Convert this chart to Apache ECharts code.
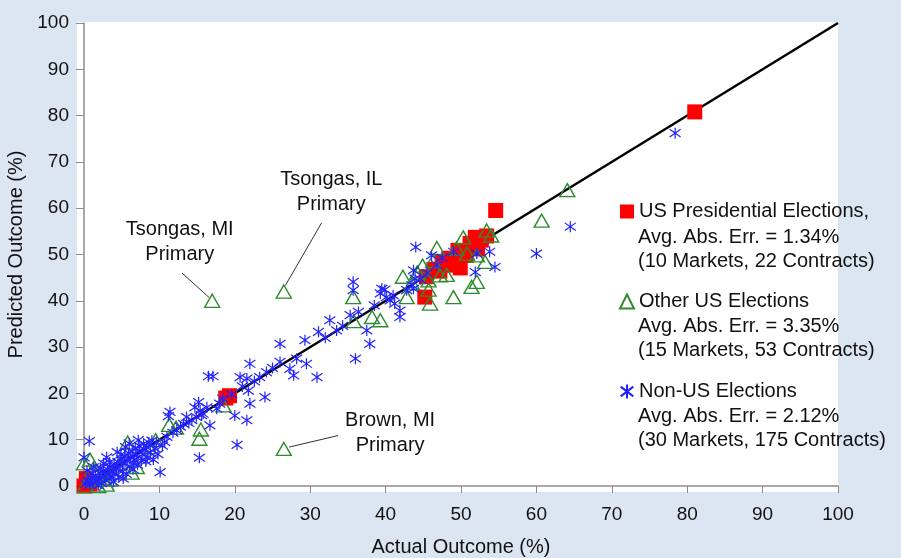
<!DOCTYPE html>
<html>
<head>
<meta charset="utf-8">
<script src="https://cdn.jsdelivr.net/npm/echarts@6/dist/echarts.min.js"></script>
<style>
  html, body { margin: 0; padding: 0; background: #dce6f2; }
  #chart { width: 901px; height: 558px; }
</style>
</head>
<body>
<div id="chart"></div>
<script>
// US presidential election contracts (actual %, predicted %)
const presData = [
  [0, 0], [0.3, 1.6], [0.8, 0.4],
  [18.8, 19], [19.3, 19.5],
  [45.2, 40.8], [45.4, 45.2], [46.4, 46.8], [47.5, 48.3], [48.4, 49.2],
  [48.9, 47.7], [49.6, 50.9], [49.9, 47.1], [50.7, 49.8], [51.2, 52.4],
  [51.9, 53.7], [52.7, 53.1], [53.4, 54], [52.2, 51.2], [47.2, 46.4],
  [54.6, 59.5], [81, 80.8]
];

// other US elections
const otherUsData = [
  [0, 4.9], [0.8, 5.7], [0.1, 0], [1.1, 1.2], [1.9, 0], [3, 0.3], [3.4, 1.4],
  [1.6, 2.6], [4.8, 4.9], [5.8, 9.4], [7, 4.1], [6.3, 2.9], [2.6, 1.8],
  [11.3, 13.2], [15.3, 10.2], [15.5, 12.2], [18.5, 17.4],
  [17, 40], [26.5, 42], [26.5, 8],
  [35.7, 40.8], [35.8, 35.6], [38.2, 36.5], [39.3, 35.8],
  [42.3, 45.2], [42.8, 40.8], [44.9, 47.6], [45.7, 44.4], [45.7, 42.4],
  [45.9, 39.4], [46.8, 51.4], [47.2, 45.5], [48.1, 45.6], [49, 40.8],
  [49.4, 51.3], [50.3, 53.7], [51.4, 43], [52.1, 44.1], [52.1, 49.8],
  [53.2, 48.4], [53.4, 55.2], [54, 54.1], [60.7, 57.3], [64.1, 63.9],
  [44.2, 46.1], [46.3, 48.6], [50.8, 50.2], [43.5, 43.8], [8.6, 8.4],
  [3.8, 2.9], [9.5, 9.9], [12.2, 12.6], [1.2, 3.6]
];

// non-US elections
const nonUsData = [
  [0.2, 0.5], [0.5, 1.2], [0.8, 0.3], [1, 1.8], [1.2, 0.8], [1.5, 2.2], [1.7, 1.3],
  [2, 2.8], [2.1, 1.5], [2.3, 0.6], [2.5, 3.2], [2.7, 2.1], [2.9, 1.2], [3.1, 3.6],
  [3.3, 2.5], [3.5, 4.2], [3.6, 1.8], [3.8, 3.1], [4, 4.8], [4.1, 2.6], [4.3, 3.7],
  [4.5, 5.2], [4.6, 1.9], [4.8, 4.3], [5, 5.8], [5.1, 3.2], [5.3, 4.9], [5.4, 6.5],
  [5.6, 2.6], [5.8, 5.4], [5.9, 7.1], [6.1, 4.2], [6.2, 6.2], [6.4, 7.5], [6.5, 3.6],
  [6.7, 5.7], [6.8, 8.2], [7, 6.6], [7.1, 4.6], [7.3, 7.6], [7.4, 8.6], [7.6, 5.5],
  [7.8, 6.9], [7.9, 9.1], [8.1, 7.8], [8.3, 8.4], [8.4, 6.1], [8.6, 9.4], [8.8, 7.2],
  [9, 9.8], [9.2, 5.7], [9.4, 8.1], [9.6, 9.3], [9.8, 6.9], [10.1, 3], [10.4, 8.7],
  [0, 6.2], [0.7, 9.7], [0.4, 3.3], [1.3, 4.1], [1.9, 0.2], [2.6, 4.9], [3.9, 0.9],
  [3, 6.2], [4.4, 7.3], [5.5, 8.4], [6, 9.2], [7.2, 9.9], [8.2, 5.3], [1.1, 2.7],
  [2.2, 3.9], [3.4, 5.1], [4.9, 6.8], [6.6, 4.9], [5.2, 1.6], [0.6, 0.9],
  [10.7, 9.5], [11, 10.6], [11.4, 16], [11.2, 15.1], [11.8, 11.5], [12.3, 12],
  [12.8, 12.8], [13.2, 13.4], [13.6, 14.9], [13.9, 13.6], [14.3, 14.2], [14.7, 17],
  [14.9, 14.9], [15.2, 18.1], [15.4, 16.3], [15.3, 6.1], [15.6, 15.3], [15.8, 15.6],
  [16.3, 17], [16.7, 13.1], [16.5, 23.7], [17.1, 23.7], [17.6, 16.7], [18, 17.8],
  [18.4, 18.9], [19.6, 19.8], [20, 15.2], [20.3, 8.9], [20.7, 23.5], [21, 21.5],
  [21.6, 23.2], [21.6, 14.2], [21.8, 20.6], [22, 17.8], [22, 26.4], [22.6, 22.6],
  [23.3, 23.5], [24, 19.2], [24.2, 24.6], [25, 25.5], [26, 30.7], [26, 26.8],
  [27.3, 25.3], [27.8, 23.9], [28.2, 27.5], [29.3, 31.5], [29.5, 26.4], [30.9, 23.5],
  [31.1, 33.3], [32, 32], [32.6, 35.8], [33.5, 33.6], [34.3, 34.6], [35.3, 36.9],
  [35.7, 44.1], [35.7, 42.3], [36, 27.5], [36.4, 37.6], [37.5, 33.6], [37.9, 30.7],
  [38.5, 39], [39.3, 41.6], [39.5, 42.6], [39.9, 42.4], [40.1, 40.8], [40.6, 40.1],
  [41, 41.2], [41.2, 39.4], [41.9, 37.9], [41.9, 36.5], [42.8, 42.3], [43.5, 43.4],
  [43.7, 46.6], [43.7, 42.6], [43.9, 44.8], [44, 51.6], [44.6, 44.7], [45.5, 46],
  [46.1, 49.8], [46.8, 47.7], [47.5, 49.3], [49, 50.6], [51.9, 46.2], [52.1, 50.2],
  [53.8, 50.6], [54.5, 47.3], [60, 50.2], [64.5, 56], [78.4, 76.2]
];

const diagonal = [[0, 0], [100, 100]];

const legendNames = [
  'US Presidential Elections,',
  'Other US Elections',
  'Non-US Elections'
];
const legendDetails = [
  ['Avg. Abs. Err. = 1.34%', '(10 Markets, 22 Contracts)'],
  ['Avg. Abs. Err. = 3.35%', '(15 Markets, 53 Contracts)'],
  ['Avg. Abs. Err. = 2.12%', '(30 Markets, 175 Contracts)']
];

// callouts: text anchor and leader line, in data units
const callouts = [
  { text: 'Tsongas, MI\nPrimary', at: [12.7, 52.7], line: [[13, 46], [16.6, 40.7]] },
  { text: 'Tsongas, IL\nPrimary', at: [32.8, 63.5], line: [[31.5, 56.8], [26.7, 43.3]] },
  { text: 'Brown, MI\nPrimary', at: [40.6, 11.5], line: [[33.7, 10.9], [27.2, 8.4]] }
];

const FONT = "'Liberation Sans', Arial, Helvetica, sans-serif";
const asterisk = 'path://M5,0L5,10M0.5,1.5L9.5,8.5M0.5,8.5L9.5,1.5';

const chart = echarts.init(document.getElementById('chart'));

const legendText = [];
legendDetails.forEach((lines, i) => {
  const mid = [237, 326, 416][i];
  lines.forEach((t, j) => {
    legendText.push({
      type: 'text',
      x: 638,
      y: mid + j * 24,
      style: {
        text: t,
        fontSize: 20,
        fontFamily: FONT,
        fill: '#111',
        verticalAlign: 'middle'
      }
    });
  });
});

const option = {
  backgroundColor: '#dce6f2',
  animation: false,
  textStyle: { fontFamily: FONT },
  grid: { left: 84, right: 63, top: 23, bottom: 72, outerBoundsMode: 'none', containLabel: false },
  graphic: [
    {
      type: 'rect',
      z: -10,
      shape: { x: 77, y: 22, width: 761, height: 470 },
      style: { fill: '#ffffff' },
      silent: true
    }
  ].concat(legendText),
  legend: {
    orient: 'vertical',
    left: 619,
    top: 200,
    padding: 0,
    itemWidth: 14,
    itemHeight: 14,
    itemGap: 67,
    selectedMode: false,
    data: legendNames,
    textStyle: { fontSize: 20, fontFamily: FONT, color: '#111', lineHeight: 23 }
  },
  xAxis: {
    type: 'value',
    min: 0,
    max: 100,
    interval: 10,
    name: 'Actual Outcome (%)',
    nameLocation: 'middle',
    nameGap: 51,
    nameTextStyle: { fontSize: 20, color: '#111', fontFamily: FONT },
    axisLine: { lineStyle: { color: '#8c8c8c', width: 1.5 } },
    axisTick: { length: 7, lineStyle: { color: '#8c8c8c' } },
    axisLabel: { fontSize: 19, color: '#111', margin: 19, fontFamily: FONT },
    splitLine: { show: false }
  },
  yAxis: {
    type: 'value',
    min: 0,
    max: 100,
    interval: 10,
    name: 'Predicted Outcome (%)',
    nameLocation: 'middle',
    nameGap: 52,
    nameRotate: 90,
    nameTextStyle: { fontSize: 20, color: '#111', fontFamily: FONT },
    axisLine: { lineStyle: { color: '#8c8c8c', width: 1.5 } },
    axisTick: { length: 8, lineStyle: { color: '#8c8c8c' } },
    axisLabel: { fontSize: 19, color: '#111', margin: 15, fontFamily: FONT },
    splitLine: { show: false }
  },
  series: [
    {
      type: 'line',
      data: diagonal,
      symbol: 'none',
      lineStyle: { color: '#000', width: 2.5 },
      silent: true,
      z: 1
    },
    {
      type: 'lines',
      coordinateSystem: 'cartesian2d',
      data: callouts.map((c) => ({ coords: c.line })),
      lineStyle: { color: '#333', width: 1, opacity: 1 },
      silent: true,
      z: 1
    },
    {
      type: 'scatter',
      data: callouts.map((c) => ({ value: c.at, name: c.text })),
      symbolSize: 0,
      silent: true,
      itemStyle: { opacity: 1 },
      label: {
        show: true,
        position: 'inside',
        formatter: (p) => p.name,
        fontSize: 20,
        lineHeight: 25,
        color: '#111',
        textBorderWidth: 0,
        fontFamily: FONT,
        align: 'center'
      },
      z: 1
    },
    {
      name: legendNames[0],
      type: 'scatter',
      data: presData,
      symbol: 'rect',
      symbolSize: 15,
      itemStyle: { color: '#ff0000', opacity: 1 },
      z: 2
    },
    {
      name: legendNames[1],
      type: 'scatter',
      data: otherUsData,
      symbol: 'triangle',
      symbolSize: [15, 13],
      itemStyle: { color: 'rgba(255,255,255,0)', borderColor: '#2e8b2e', borderWidth: 1.4, opacity: 1 },
      z: 3
    },
    {
      name: legendNames[2],
      type: 'scatter',
      data: nonUsData,
      symbol: asterisk,
      symbolSize: 11,
      itemStyle: { color: 'rgba(255,255,255,0)', borderColor: '#2222ff', borderWidth: 1.2, opacity: 1 },
      z: 4
    }
  ]
};

chart.setOption(option);
</script>
</body>
</html>
